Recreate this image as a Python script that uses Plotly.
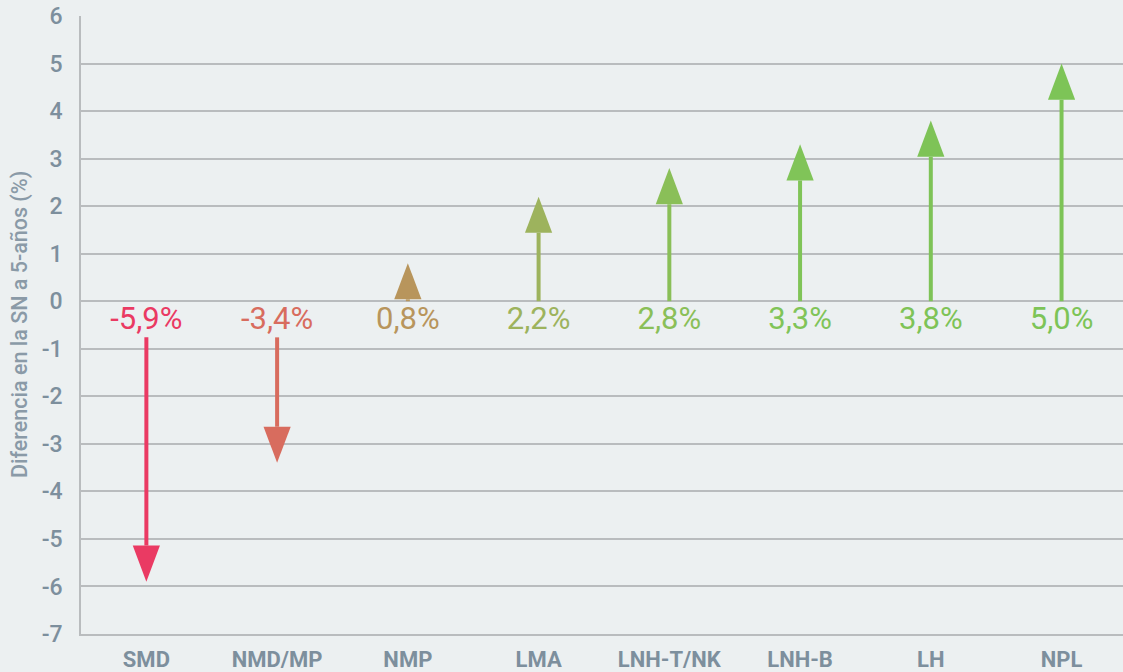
import plotly.graph_objects as go

categories = ["SMD", "NMD/MP", "NMP", "LMA", "LNH-T/NK", "LNH-B", "LH", "NPL"]
values = [-5.9, -3.4, 0.8, 2.2, 2.8, 3.3, 3.8, 5.0]
labels = ["-5,9%", "-3,4%", "0,8%", "2,2%", "2,8%", "3,3%", "3,8%", "5,0%"]
colors = ["#ea3a63", "#d86c5e", "#b8955c", "#9db35d", "#8abf58", "#80c458", "#7ec357", "#7dc457"]

y_ticks = list(range(-7, 7))

HEAD_H = 0.76    # arrowhead height in y units
HEAD_HW = 0.104  # arrowhead half-width in category units
NEG_START = -0.76
LABEL_Y = -0.42

BG = "#ecf0f1"
GRID = "#b9bcbe"
TXT = "#7d8f9d"

fig = go.Figure()

for i, (c, v, col) in enumerate(zip(categories, values, colors)):
    if v >= 0:
        start = 0.0
        base = v - HEAD_H
    else:
        start = NEG_START
        base = v + HEAD_H
    if (v >= 0 and base > start) or (v < 0 and base < start):
        fig.add_trace(go.Scatter(
            x=[i, i], y=[start, base], mode="lines",
            line=dict(color=col, width=4), hoverinfo="skip", showlegend=False))
    fig.add_trace(go.Scatter(
        x=[i - HEAD_HW, i + HEAD_HW, i, i - HEAD_HW],
        y=[base, base, v, base],
        mode="lines", fill="toself", fillcolor=col,
        line=dict(color=col, width=0), hoverinfo="skip", showlegend=False))

fig.add_trace(go.Scatter(
    x=list(range(len(categories))), y=[LABEL_Y] * len(categories),
    mode="text", text=labels,
    textfont=dict(family="Roboto", size=31, color=colors),
    textposition="middle center", hoverinfo="skip", showlegend=False))

fig.update_layout(
    width=1123, height=672,
    margin=dict(l=81, r=0, t=16, b=38),
    paper_bgcolor=BG, plot_bgcolor=BG,
    showlegend=False,
    xaxis=dict(
        range=[-0.5, 7.47],
        tickmode="array", tickvals=list(range(len(categories))), ticktext=categories,
        tickfont=dict(family="Roboto", size=22, color=TXT, weight="bold"),
        showgrid=False, zeroline=False, showline=True, linecolor=GRID, linewidth=1.5,
        ticks="", ticklabelstandoff=5, automargin=False,
    ),
    yaxis=dict(
        range=[-7, 6],
        tickmode="array", tickvals=y_ticks, ticktext=[str(t) for t in y_ticks],
        tickfont=dict(family="Roboto", size=23, color=TXT, weight=500),
        showgrid=True, gridcolor=GRID, gridwidth=1.5,
        zeroline=True, zerolinecolor=GRID, zerolinewidth=1.5,
        showline=True, linecolor=GRID, linewidth=1.5,
        ticks="", ticklabelstandoff=12, automargin=False,
    ),
    annotations=[dict(
        text="Diferencia en la SN a 5-años (%)", textangle=-90,
        xref="paper", yref="paper", x=(20 - 81) / 1042, y=0.5,
        xanchor="center", yanchor="middle", showarrow=False,
        font=dict(family="Roboto", size=21.5, color="#8a9aa7", weight=500))],
)

fig.write_html(
    "out.html",
    config={"displayModeBar": False},
    post_script="document.body.style.margin='0';document.body.style.background='#ecf0f1';",
)
